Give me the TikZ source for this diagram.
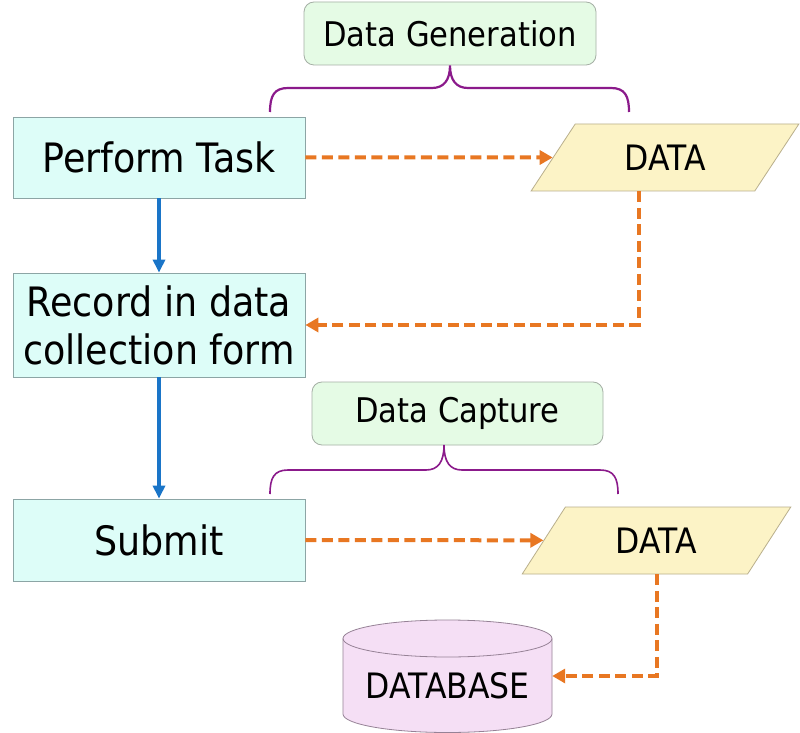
\documentclass[tikz,border=0pt]{standalone}
\usepackage{fontspec}
\setmainfont[FakeStretch=0.9]{DejaVu Sans}
\usetikzlibrary{shapes.geometric,arrows.meta}
\definecolor{taskfill}{RGB}{221,253,248}
\definecolor{taskline}{RGB}{140,165,165}
\definecolor{genfill}{RGB}{229,251,229}
\definecolor{genline}{RGB}{165,175,165}
\definecolor{datafill}{RGB}{252,243,198}
\definecolor{dataline}{RGB}{185,175,140}
\definecolor{dbfill}{RGB}{245,223,245}
\definecolor{dbline}{RGB}{150,130,150}
\definecolor{orangeflow}{RGB}{232,119,34}
\definecolor{blueflow}{RGB}{26,117,200}
\definecolor{bracecol}{RGB}{139,26,139}
\begin{document}
\begin{tikzpicture}[x=1pt,y=1pt,
  taskbox/.style={draw=taskline, fill=taskfill, line width=0.8pt, minimum width=292, minimum height=81, inner sep=0, align=center, font=\fontsize{40.5}{48}\selectfont},
  labelbox/.style={draw=genline, fill=genfill, line width=0.8pt, rounded corners=10pt, minimum height=63, inner sep=0, font=\fontsize{34}{40}\selectfont},
  databox/.style={trapezium, trapezium stretches=true, draw=dataline, fill=datafill, line width=0.8pt, minimum width=268, minimum height=67, inner sep=0, font=\fontsize{35}{40}\selectfont},
  flow/.style={draw=orangeflow, line width=4pt, dash pattern=on 11pt off 5.5pt, -{Triangle[length=13pt,width=14pt]}},
  downflow/.style={draw=blueflow, line width=3.5pt, -{Triangle[length=13pt,width=12pt]}},
  bracestyle/.style={draw=bracecol, line width=2.2pt}
]
\fill[white] (0,0) rectangle (800,732);
\useasboundingbox (0,0) rectangle (800,732);

% label boxes
\node[labelbox, minimum width=292] (gen) at (450,698.5) {Data Generation};
\node[labelbox, minimum width=291] (cap) at (457.5,318.5) {Data Capture};

% braces
\draw[bracestyle] (270,620) .. controls (270,636) and (274,644) .. (288,644) -- (432,644)
  .. controls (444,644) and (450,652) .. (gen.south)
  .. controls (450,652) and (456,644) .. (468,644) -- (611,644)
  .. controls (625,644) and (629,636) .. (629,620);
\draw[bracestyle, line width=1.6pt] (270,238) .. controls (270,254) and (274,262) .. (288,262) -- (426,262)
  .. controls (438,262) and (444,270) .. (444,287)
  .. controls (444,270) and (450,262) .. (462,262) -- (600,262)
  .. controls (614,262) and (618,254) .. (618,238);

% task boxes
\node[taskbox] (pt) at (159,574.5) {Perform Task};
\node[taskbox, minimum height=104] (rec) at (159,407) {Record in data\\collection form};
\node[taskbox, minimum height=82] (sub) at (159,192) {Submit};

% data parallelograms
\node[databox, trapezium left angle=52, trapezium right angle=128] (d1) at (665,574.5) {DATA};
\node[databox, minimum width=269, trapezium left angle=53, trapezium right angle=127] (d2) at (656.5,191.5) {DATA};

% database cylinder
\node[minimum width=209, minimum height=113, inner sep=0] (db) at (447.5,56) {};
\fill[dbfill] (343,93.5) -- (343,18) arc[start angle=180, end angle=360, x radius=104.5, y radius=18.5]
  -- (552,93.5) arc[start angle=0, end angle=180, x radius=104.5, y radius=18.5] -- cycle;
\draw[dbline, line width=0.8pt] (343,93.5) -- (343,18) arc[start angle=180, end angle=360, x radius=104.5, y radius=18.5]
  -- (552,93.5) arc[start angle=0, end angle=180, x radius=104.5, y radius=18.5];
\draw[dbline, line width=0.8pt] (343,93.5) arc[start angle=180, end angle=360, x radius=104.5, y radius=18.5];
\node[font=\fontsize{35}{40}\selectfont] (dblabel) at (447.5,46) {DATABASE};

% connectors
\draw[downflow] (pt.south) -- (rec.north);
\draw[downflow] (rec.south) -- (sub.north);
\draw[flow] (pt.east) -- (d1);
\draw[flow] ([xshift=-4pt]d1.bottom side) |- (rec.east);
\draw[flow] (sub.east) -- (d2);
\draw[flow] (d2.center |- d2.bottom side) |- (db.east);
\end{tikzpicture}
\end{document}
